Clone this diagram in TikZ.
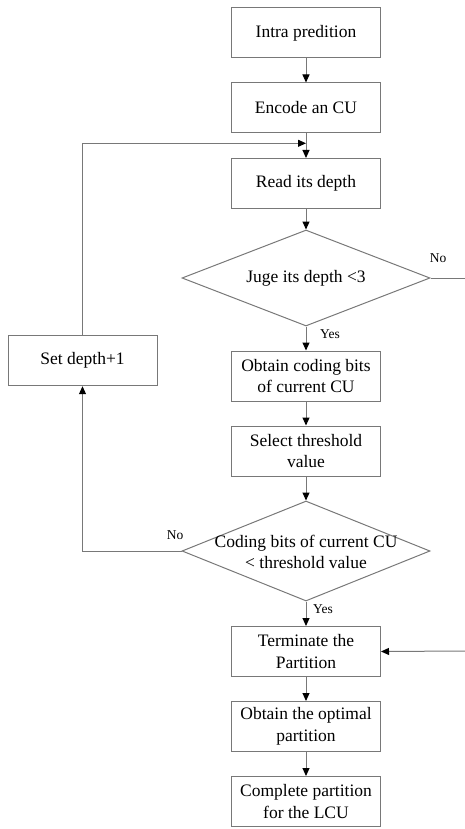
\documentclass[tikz,border=0pt]{standalone}
\usepackage{fontspec}
\setmainfont{Liberation Serif}
\usetikzlibrary{arrows.meta,shapes.geometric}
\definecolor{linegray}{RGB}{120,120,120}
\tikzset{
  stepbox/.style={draw=linegray, line width=1pt, rectangle, minimum width=149pt, minimum height=50pt, inner sep=0pt, align=center, font=\fontsize{17.5pt}{21.5pt}\selectfont},
  decision/.style={draw=linegray, line width=1pt, diamond, minimum width=248pt, minimum height=96pt, inner sep=0pt},
  dtext/.style={align=center, inner sep=0pt, font=\fontsize{17.5pt}{21.5pt}\selectfont},
  lbl/.style={inner sep=0pt, font=\fontsize{13.5pt}{16pt}\selectfont},
  conn/.style={draw=linegray, line width=1pt},
  arr/.style={conn, -{Triangle[length=8pt,width=7pt,color=black]}}
}
\begin{document}
\begin{tikzpicture}[x=1pt,y=-1pt]
\useasboundingbox (0,0) rectangle (465,829);
\node[stepbox] (b1) at (306,33) {Intra predition};
\node[stepbox] (b2) at (306,108) {Encode an CU};
\node[stepbox] (b3) at (306,183.5) {Read its depth};
\node[decision] (d1) at (306,278) {};
\node[dtext] (d1t) at (306,278) {Juge its depth <3};
\node[stepbox] (b4) at (306,376) {Obtain coding bits\\of current CU};
\node[stepbox] (b5) at (306,451) {Select threshold\\value};
\node[decision, minimum height=100pt] (d2) at (306,551) {};
\node[dtext] (d2t) at (306,552) {Coding bits of current CU\\< threshold value};
\node[stepbox] (b6) at (306,651.5) {Terminate the\\Partition};
\node[stepbox] (b7) at (306,726.5) {Obtain the optimal\\partition};
\node[stepbox] (b8) at (306,801.5) {Complete partition\\for the LCU};
\node[stepbox] (set) at (82.5,360.7) {Set depth+1};
\node[lbl] (no1) at (438,258) {No};
\node[lbl] (yes1) at (330,334) {Yes};
\node[lbl] (no2) at (175,535) {No};
\node[lbl] (yes2) at (323,609) {Yes};
\coordinate (join) at (306,143.3);
\coordinate (noend) at (465,278);
\coordinate (rin) at (465,651);
\coordinate (lb) at (82.5,551);
\coordinate (lt) at (82.5,143.3);
\draw[arr] (b1) -- (b2);
\draw[arr] (b2) -- (b3);
\draw[arr] (set.north) -- (lt) -- (join);
\draw[arr] (b3) -- (d1.north);
\draw[conn] (d1.east) -- (noend);
\draw[arr] (d1.south) -- (b4);
\draw[arr] (b4) -- (b5);
\draw[arr] (b5) -- (d2.north);
\draw[arr] (d2.west) -- (lb) -- (set.south);
\draw[arr] (d2.south) -- (b6);
\draw[arr] (rin) -- (b6.east);
\draw[arr] (b6) -- (b7);
\draw[arr] (b7) -- (b8);
\end{tikzpicture}
\end{document}
